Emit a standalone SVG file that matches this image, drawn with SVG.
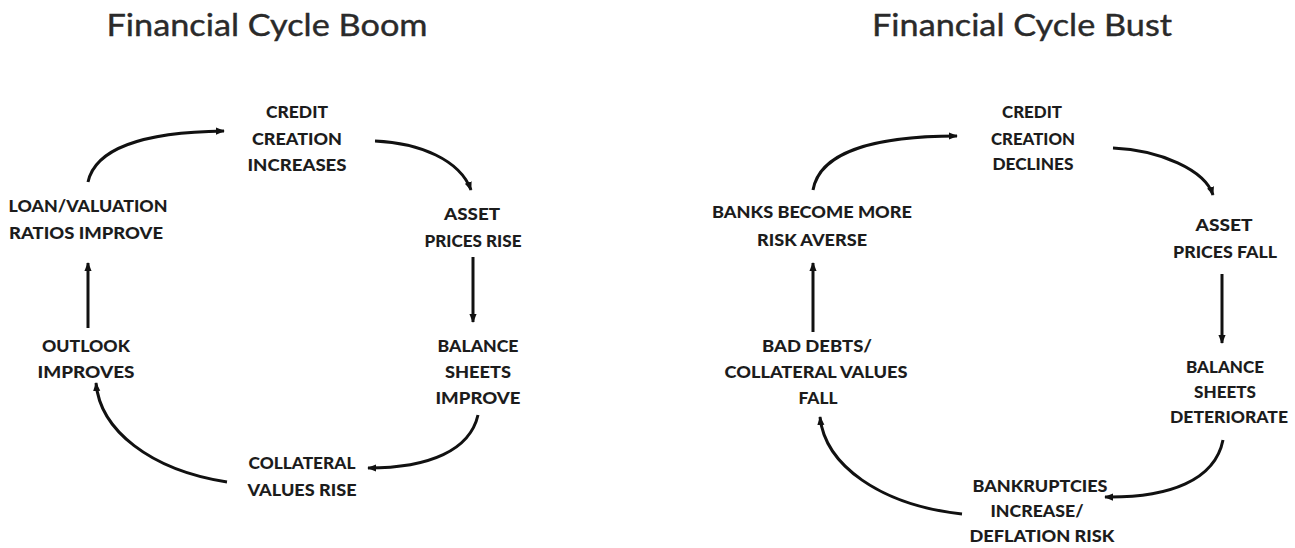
<svg xmlns="http://www.w3.org/2000/svg" width="1295" height="548" viewBox="0 0 1295 548">
<style>
.title{font-family:Lato,"Open Sans","Liberation Sans",sans-serif;font-size:31px;fill:#2a2a2a;stroke:#2a2a2a;stroke-width:0.4;text-anchor:middle}
.n{font-family:Lato,"Open Sans","Liberation Sans",sans-serif;font-weight:900;font-size:17.5px;fill:#1c1c1c;text-anchor:middle}
.c{fill:none;stroke:#111;stroke-width:3;marker-end:url(#ah)}
</style>
<defs>
<marker id="ah" viewBox="0 0 10 10" refX="9" refY="5" markerWidth="9" markerHeight="9" markerUnits="userSpaceOnUse" orient="auto">
<path d="M0,1 L10,5 L0,9 z" fill="#111"/>
</marker>
</defs>
<rect width="1295" height="548" fill="#fff"/>
<text class="title" x="267" y="36" textLength="321" lengthAdjust="spacingAndGlyphs">Financial Cycle Boom</text>
<text class="title" x="1022" y="36" textLength="300" lengthAdjust="spacingAndGlyphs">Financial Cycle Bust</text>

<g id="connectors">
<path class="c" d="M88,182 C95,150 140,132 224,131"/>
<path class="c" d="M375,141 C420,143 460,160 471,190"/>
<path class="c" d="M473,257 L473,322"/>
<path class="c" d="M478,415 C470,450 430,468 368,468"/>
<path class="c" d="M227,482 C150,470 100,430 96,383"/>
<path class="c" d="M88,328 L88,263"/>
<path class="c" d="M813,190 C820,150 880,136 957,136"/>
<path class="c" d="M1113,148 C1160,150 1205,170 1213,195"/>
<path class="c" d="M1222,274 L1222,343"/>
<path class="c" d="M1223,440 C1215,480 1170,498 1105,497"/>
<path class="c" d="M962,514 C880,505 825,465 820,417"/>
<path class="c" d="M813,332 L813,263"/>
</g>

<g id="boom-credit">
<text class="n" x="297" y="118" textLength="62" lengthAdjust="spacingAndGlyphs">CREDIT</text>
<text class="n" x="297" y="145" textLength="90" lengthAdjust="spacingAndGlyphs">CREATION</text>
<text class="n" x="297" y="171" textLength="99" lengthAdjust="spacingAndGlyphs">INCREASES</text>
</g>
<g id="boom-asset">
<text class="n" x="472" y="220" textLength="56" lengthAdjust="spacingAndGlyphs">ASSET</text>
<text class="n" x="473" y="247" textLength="97" lengthAdjust="spacingAndGlyphs">PRICES RISE</text>
</g>
<g id="boom-balance">
<text class="n" x="478" y="352" textLength="81" lengthAdjust="spacingAndGlyphs">BALANCE</text>
<text class="n" x="478" y="378" textLength="66" lengthAdjust="spacingAndGlyphs">SHEETS</text>
<text class="n" x="478" y="404" textLength="85" lengthAdjust="spacingAndGlyphs">IMPROVE</text>
</g>
<g id="boom-collateral">
<text class="n" x="302" y="469" textLength="107" lengthAdjust="spacingAndGlyphs">COLLATERAL</text>
<text class="n" x="302" y="496" textLength="109" lengthAdjust="spacingAndGlyphs">VALUES RISE</text>
</g>
<g id="boom-outlook">
<text class="n" x="86" y="352" textLength="88" lengthAdjust="spacingAndGlyphs">OUTLOOK</text>
<text class="n" x="86" y="378" textLength="97" lengthAdjust="spacingAndGlyphs">IMPROVES</text>
</g>
<g id="boom-loan">
<text class="n" x="88" y="212" textLength="159" lengthAdjust="spacingAndGlyphs">LOAN/VALUATION</text>
<text class="n" x="86" y="239" textLength="154" lengthAdjust="spacingAndGlyphs">RATIOS IMPROVE</text>
</g>

<g id="bust-credit">
<text class="n" x="1032" y="118" textLength="60" lengthAdjust="spacingAndGlyphs">CREDIT</text>
<text class="n" x="1033" y="145" textLength="84" lengthAdjust="spacingAndGlyphs">CREATION</text>
<text class="n" x="1033" y="170" textLength="81" lengthAdjust="spacingAndGlyphs">DECLINES</text>
</g>
<g id="bust-asset">
<text class="n" x="1224" y="231" textLength="57" lengthAdjust="spacingAndGlyphs">ASSET</text>
<text class="n" x="1225" y="258" textLength="104" lengthAdjust="spacingAndGlyphs">PRICES FALL</text>
</g>
<g id="bust-balance">
<text class="n" x="1225" y="373" textLength="78" lengthAdjust="spacingAndGlyphs">BALANCE</text>
<text class="n" x="1225" y="398" textLength="62" lengthAdjust="spacingAndGlyphs">SHEETS</text>
<text class="n" x="1229" y="423" textLength="118" lengthAdjust="spacingAndGlyphs">DETERIORATE</text>
</g>
<g id="bust-bankruptcies">
<text class="n" x="1040" y="492" textLength="135" lengthAdjust="spacingAndGlyphs">BANKRUPTCIES</text>
<text class="n" x="1037" y="517" textLength="93" lengthAdjust="spacingAndGlyphs">INCREASE/</text>
<text class="n" x="1042" y="542" textLength="145" lengthAdjust="spacingAndGlyphs">DEFLATION RISK</text>
</g>
<g id="bust-baddebts">
<text class="n" x="817" y="352" textLength="110" lengthAdjust="spacingAndGlyphs">BAD DEBTS/</text>
<text class="n" x="816" y="378" textLength="183" lengthAdjust="spacingAndGlyphs">COLLATERAL VALUES</text>
<text class="n" x="818" y="404" textLength="39" lengthAdjust="spacingAndGlyphs">FALL</text>
</g>
<g id="bust-banks">
<text class="n" x="812" y="218" textLength="200" lengthAdjust="spacingAndGlyphs">BANKS BECOME MORE</text>
<text class="n" x="812" y="246" textLength="110" lengthAdjust="spacingAndGlyphs">RISK AVERSE</text>
</g>
</svg>
